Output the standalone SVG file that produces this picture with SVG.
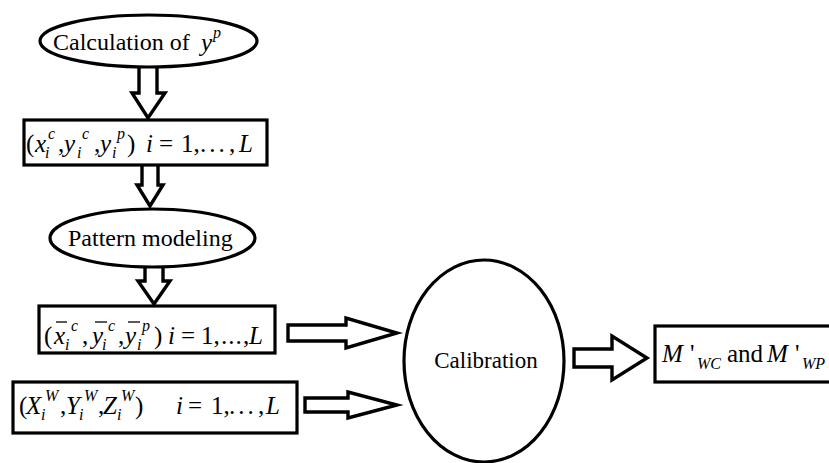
<svg xmlns="http://www.w3.org/2000/svg" width="829" height="463" viewBox="0 0 829 463" font-family="'Liberation Serif', 'Times New Roman', serif">
  <style>
    .node { fill: #fff; stroke: #000; stroke-width: 3.2; }
    .arrow { fill: #fff; stroke: #000; stroke-width: 3.4; stroke-linejoin: miter; }
    text { font-family: 'Liberation Serif', 'Times New Roman', serif; fill: #000; }
    .t { font-size: 24px; }
    .m { font-size: 25px; font-style: italic; }
    .s { font-size: 16px; font-style: italic; }
    .r { font-size: 25px; }
    .bar { stroke: #000; stroke-width: 1.3; }
  </style>
  <rect width="829" height="463" fill="#fff"/>

  <!-- block arrows between steps -->
  <g id="connectors">
    <path class="arrow" d="M139,66 V93 H132 L148,118 L165,93 H157 V66"/>
    <path class="arrow" d="M142,165 V185 H137 L150,206 L163,185 H158 V165"/>
    <path class="arrow" d="M145,266 V281 H138 L154,304 L170,281 H163 V266"/>
    <path class="arrow" d="M288,325 H346 V318 L397,333 L346,348 V341 H288 Z"/>
    <path class="arrow" d="M305,398 H348 V392 L397,405 L348,418 V412 H305 Z"/>
    <path class="arrow" d="M574,349 H612 V336 L647,358 L612,380 V367 H574 Z"/>
  </g>

  <g id="calc-yp">
    <ellipse class="node" cx="148.5" cy="41" rx="108.5" ry="26"/>
    <text class="t" x="53" y="50">Calculation of</text>
    <text class="m" x="201" y="51" fill="#23235e">y</text>
    <text class="s" x="213" y="38" fill="#23235e">p</text>
  </g>

  <g id="points">
    <rect class="node" x="24" y="120" width="243" height="45"/>
    <text class="r" x="26" y="152">(</text>
    <text class="m" x="35" y="152">x</text>
    <text class="s" x="48" y="139">c</text>
    <text class="s" x="45" y="158">i</text>
    <text class="r" x="58" y="152">,</text>
    <text class="m" x="64" y="152">y</text>
    <text class="s" x="82" y="139">c</text>
    <text class="s" x="77" y="158">i</text>
    <text class="r" x="94" y="152">,</text>
    <text class="m" x="100" y="152">y</text>
    <text class="s" x="117" y="139">p</text>
    <text class="s" x="112" y="158">i</text>
    <text class="r" x="127" y="152">)</text>
    <text class="m" x="146" y="152">i</text>
    <text class="r" x="159" y="152">=</text>
    <text class="r" x="181" y="152">1,</text>
    <text class="r" x="200" y="152" letter-spacing="3">...</text>
    <text class="r" x="229" y="152">,</text>
    <text class="m" x="239" y="152">L</text>
  </g>

  <g id="pattern-modeling">
    <ellipse class="node" cx="152.5" cy="238" rx="102.5" ry="29"/>
    <text class="t" x="68" y="246">Pattern modeling</text>
  </g>

  <g id="mean-points">
    <rect class="node" x="39" y="306" width="236" height="47"/>
    <text class="r" x="44" y="344">(</text>
    <text class="m" x="54" y="344">x</text>
    <line class="bar" x1="56" y1="322" x2="67" y2="322"/>
    <text class="s" x="71" y="331">c</text>
    <text class="s" x="65" y="350">i</text>
    <text class="r" x="82" y="344">,</text>
    <text class="m" x="92" y="344">y</text>
    <line class="bar" x1="95" y1="322" x2="107" y2="322"/>
    <text class="s" x="108" y="331">c</text>
    <text class="s" x="102" y="350">i</text>
    <text class="r" x="118" y="344">,</text>
    <text class="m" x="125" y="344">y</text>
    <line class="bar" x1="128" y1="322" x2="140" y2="322"/>
    <text class="s" x="142" y="331">p</text>
    <text class="s" x="137" y="350">i</text>
    <text class="r" x="154" y="344">)</text>
    <text class="m" x="168" y="344">i</text>
    <text class="r" x="181" y="344">=</text>
    <text class="r" x="201" y="344">1,</text>
    <text class="r" x="221" y="344" letter-spacing="1">...</text>
    <text class="r" x="243" y="344">,</text>
    <text class="m" x="249" y="344">L</text>
  </g>

  <g id="world-points">
    <rect class="node" x="13" y="382" width="284" height="51"/>
    <text class="r" x="19" y="414">(</text>
    <text class="m" x="26" y="414">X</text>
    <text class="s" x="45" y="401">W</text>
    <text class="s" x="41" y="420">i</text>
    <text class="r" x="60" y="414">,</text>
    <text class="m" x="66" y="414">Y</text>
    <text class="s" x="84" y="401">W</text>
    <text class="s" x="79" y="420">i</text>
    <text class="r" x="98" y="414">,</text>
    <text class="m" x="103" y="414">Z</text>
    <text class="s" x="121" y="401">W</text>
    <text class="s" x="117" y="420">i</text>
    <text class="r" x="135" y="414">)</text>
    <text class="m" x="176" y="414">i</text>
    <text class="r" x="188" y="414">=</text>
    <text class="r" x="211" y="414">1,</text>
    <text class="r" x="229" y="414" letter-spacing="3">...</text>
    <text class="r" x="258" y="414">,</text>
    <text class="m" x="266" y="414">L</text>
  </g>

  <g id="calibration">
    <ellipse class="node" cx="484" cy="361" rx="80" ry="101"/>
    <text class="t" x="486" y="368" text-anchor="middle" style="font-size:23px">Calibration</text>
  </g>

  <g id="result">
    <rect class="node" x="655" y="326" width="185" height="56"/>
    <text class="m" x="662" y="362" fill="#c8861e">M</text>
    <text class="r" x="690" y="362">'</text>
    <text class="s" x="697" y="369">WC</text>
    <text class="r" x="727" y="362">and</text>
    <text class="m" x="767" y="362" fill="#c8861e">M</text>
    <text class="r" x="795" y="362">'</text>
    <text class="s" x="802" y="369">WP</text>
  </g>
</svg>
